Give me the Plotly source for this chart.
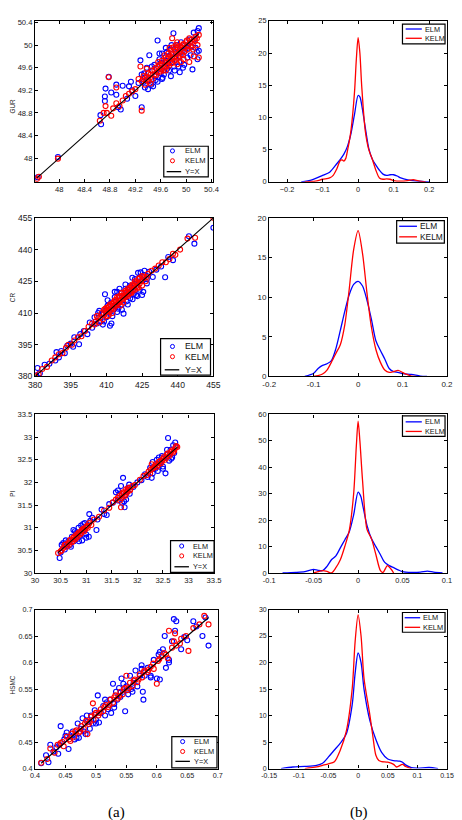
import plotly.graph_objects as go

W, H = 462, 820

# ---------------- data: scatter (actual, predicted) ----------------
GUR_ELM = [(47.66,47.66),(47.98,48.02),(48.65,48.76),(48.66,48.60),(48.72,49.01),(48.72,49.09),(48.73,49.23),(48.78,49.44),
 (48.82,49.16),(48.90,49.30),(48.90,49.12),(48.93,48.90),(48.97,48.86),(49.00,49.28),(49.07,49.05),(49.10,49.27),(49.13,49.35),
 (49.15,49.20),(49.20,49.10),(49.25,49.33),(49.28,49.73),(49.30,48.90),(49.30,49.48),(49.33,49.35),(49.35,49.25),(49.38,49.60),
 (49.42,49.82),(49.45,49.30),(49.48,49.27),(49.50,49.65),(49.52,49.45),(49.55,50.08),(49.55,49.35),(49.58,49.75),(49.60,49.50),
 (49.62,49.85),(49.65,49.48),(49.66,49.62),(49.68,49.95),(49.70,49.58),(49.72,49.80),(49.75,49.92),(49.76,49.45),(49.78,49.70),
 (49.80,50.21),(49.82,49.55),(49.84,49.85),(49.86,50.00),(49.88,49.62),(49.90,49.80),(49.92,50.05),(49.95,49.60),(49.98,49.90),
 (50.02,49.78),(50.05,50.10),(50.08,49.98),(50.10,49.57),(50.12,50.22),(50.15,49.95),(50.18,49.75),(50.20,50.30),(50.18,50.25),
 (50.02,49.95),(49.72,49.68),(49.60,49.68),(49.47,49.55),(49.40,49.38),(49.35,49.42),(49.90,49.52),(50.20,49.90),
 (49.34,49.50),(49.40,49.22),(49.46,49.62),(49.52,49.38),(49.58,49.85),(49.63,49.42),(49.68,49.72),(49.73,49.55),(49.77,50.00),
 (49.81,49.62),(49.85,49.95),(49.89,49.70),(49.93,49.88),(49.97,49.65),(50.03,50.00),(50.07,49.82),(50.13,50.10),(50.17,49.88),
 (49.70,49.88),(49.62,49.40)]
GUR_KELM = [(47.65,47.63),(47.68,47.67),(47.98,47.99),(48.64,48.66),(48.70,48.80),(48.73,48.92),(48.75,48.80),(48.78,49.43),
 (48.82,48.75),(48.85,48.88),(48.90,48.97),(48.90,49.25),(48.95,48.92),(49.00,49.02),(49.05,49.10),(49.10,49.14),(49.15,49.18),
 (49.20,49.22),(49.25,49.40),(49.28,49.62),(49.30,48.84),(49.30,49.36),(49.33,49.45),(49.36,49.38),(49.40,49.50),(49.43,49.42),
 (49.46,49.55),(49.50,49.48),(49.52,49.60),(49.55,49.52),(49.58,49.65),(49.60,49.58),(49.62,49.72),(49.65,49.60),(49.68,49.78),
 (49.70,49.66),(49.72,49.85),(49.74,49.70),(49.76,49.90),(49.78,49.76),(49.80,49.96),(49.82,49.72),(49.84,49.88),(49.86,50.05),
 (49.88,49.80),(49.90,49.92),(49.92,49.70),(49.95,50.00),(49.97,49.88),(50.00,50.05),(50.02,49.92),(50.05,50.12),(50.08,49.96),
 (50.10,50.06),(50.12,49.80),(50.15,50.15),(50.18,50.00),(50.20,50.18),(50.20,49.78),(49.78,50.12),(49.68,49.55),(49.56,49.70),
 (49.44,49.32),(49.38,49.58),(50.05,49.70),(49.95,49.82),
 (49.32,49.40),(49.35,49.30),(49.38,49.44),(49.41,49.36),(49.44,49.48),(49.47,49.40),(49.50,49.56),(49.53,49.47),(49.56,49.62),
 (49.59,49.53),(49.62,49.66),(49.64,49.55),(49.66,49.70),(49.69,49.62),(49.71,49.76),(49.73,49.64),(49.75,49.80),(49.77,49.68),
 (49.79,49.85),(49.81,49.78),(49.83,49.92),(49.85,49.76),(49.87,49.95),(49.89,49.86),(49.91,49.98),(49.93,49.84),(49.96,50.02),
 (49.98,49.95),(50.01,50.08),(50.03,49.98),(50.06,50.04),(50.09,50.10),(50.11,49.92),(50.14,50.08),(50.17,50.12),(49.74,49.95),
 (49.84,50.00),(49.66,49.82),(49.96,49.75),(49.86,49.66)]

CR_ELM = [(380.5,380.5),(381.0,384.0),(382.0,381.5),(384.0,385.5),(386.0,386.0),(388.5,387.5),(389.0,391.5),(390.0,389.0),
 (391.0,392.0),(392.5,391.0),(393.5,394.5),(395.0,395.5),(396.0,394.0),(396.5,398.5),(398.5,395.2),(399.0,400.0),(400.5,401.5),
 (402.0,400.0),(403.0,405.5),(404.0,403.0),(405.0,408.0),(406.0,405.0),(406.5,410.0),(407.5,406.0),(408.0,409.5),(408.5,404.5),
 (409.4,418.9),(409.5,411.0),(410.0,408.0),(410.5,413.5),(411.0,410.5),(411.5,404.0),(412.0,415.0),(412.1,405.0),(413.0,411.5),
 (413.5,417.5),(414.0,413.0),(414.5,420.0),(415.0,412.0),(415.5,416.0),(416.0,419.5),(416.5,414.0),(417.2,409.7),(417.5,418.0),
 (418.0,421.5),(418.5,415.5),(419.0,419.0),(419.5,422.0),(420.0,417.0),(420.5,420.5),(420.9,426.7),(421.5,419.0),(422.0,423.5),
 (422.5,418.5),(423.3,429.0),(424.0,421.0),(424.4,429.2),(425.0,425.5),(425.5,420.0),(426.0,428.0),(427.0,424.0),(428.0,429.5),
 (429.5,427.0),(431.0,430.5),(433.0,432.0),(434.7,426.9),(436.0,436.5),(438.0,435.0),(444.7,446.3),(447.0,442.8),(455.0,450.3),
 (407.0,411.0),(409.0,406.0),(410.5,416.0),(412.5,408.5),(413.5,420.0),(414.5,410.5),(415.5,421.5),(416.5,411.5),(418.0,423.5),
 (419.0,414.0),(420.0,423.0),(421.0,416.5),(422.0,426.0),(423.0,418.0),(424.0,427.0),(425.0,418.5),(426.0,430.0),(427.0,426.0)]
CR_KELM = [(380.0,380.0),(381.5,381.0),(383.0,383.5),(385.0,384.5),(387.0,387.5),(388.5,389.0),(390.0,390.5),(391.5,391.0),
 (393.0,393.5),(394.0,395.0),(395.5,395.0),(396.5,397.0),(398.0,398.5),(399.5,399.0),(401.0,401.5),(402.5,403.5),(404.0,405.0),
 (405.5,406.0),(406.5,407.5),(407.5,408.0),(408.0,410.0),(409.0,409.5),(409.5,412.0),(410.0,410.5),(410.5,408.5),(411.0,413.0),
 (411.5,411.0),(412.0,413.5),(412.5,410.0),(413.0,415.0),(413.5,413.0),(414.0,416.0),(414.5,414.0),(415.0,417.0),(415.5,415.5),
 (416.0,413.5),(416.5,418.0),(417.0,416.5),(417.5,419.5),(418.0,417.5),(418.5,420.0),(419.0,418.0),(419.5,421.0),(420.0,419.5),
 (420.5,422.5),(421.0,420.5),(421.5,423.0),(422.0,421.0),(422.5,424.5),(423.0,422.0),(423.5,426.0),(424.0,424.0),(425.0,423.0),
 (425.5,427.0),(426.5,425.0),(427.5,428.5),(429.0,430.0),(430.5,431.0),(432.0,432.5),(433.5,434.0),(435.0,434.0),(436.5,435.5),
 (438.0,438.0),(444.1,445.2),(447.3,445.6),(455.0,455.0),
 (405.0,404.5),(406.0,408.5),(407.0,405.5),(408.5,407.0),(409.0,411.5),(410.0,412.5),(410.5,411.5),(411.0,409.0),(411.5,414.0),
 (412.0,411.5),(412.5,414.5),(413.0,412.0),(413.5,416.0),(414.0,413.5),(414.5,417.5),(415.0,414.5),(415.5,418.0),(416.0,416.0),
 (416.5,419.5),(417.0,415.0),(417.5,418.0),(418.0,420.5),(418.5,418.5),(419.0,421.5),(419.5,419.0),(420.0,422.0),(420.5,419.5),
 (421.0,423.5),(421.5,421.5),(422.0,425.0),(422.5,422.5),(423.0,424.0),(423.5,422.0),(424.0,426.5),(424.5,425.0),(425.0,427.5),
 (426.0,426.5),(427.0,427.0),(439.0,437.5),(441.0,440.0)]

PI_ELM = [(30.48,30.33),(30.50,30.45),(30.52,30.62),(30.55,30.66),(30.58,30.52),(30.62,30.60),(30.65,30.70),(30.68,30.62),
 (30.72,30.80),(30.75,30.95),(30.76,30.70),(30.80,30.88),(30.82,30.75),(30.85,31.00),(30.88,30.82),(30.90,31.05),(30.92,30.72),
 (30.95,30.95),(30.97,31.10),(31.00,30.85),(31.02,31.05),(31.05,30.80),(31.06,31.30),(31.08,31.15),(31.12,31.22),(31.20,30.95),
 (31.22,31.18),(31.30,31.40),(31.35,31.30),(31.40,31.28),(31.45,31.52),(31.52,31.55),(31.58,31.78),(31.62,31.60),(31.65,31.75),
 (31.68,31.92),(31.70,31.55),(31.72,32.10),(31.75,31.45),(31.78,31.62),(31.80,31.80),(31.82,31.88),(31.85,31.75),(31.92,31.90),
 (32.00,32.00),(32.08,32.05),(32.15,32.18),(32.20,32.12),(32.25,32.32),(32.28,32.10),(32.30,32.45),(32.35,32.30),(32.38,32.50),
 (32.40,32.25),(32.45,32.42),(32.48,32.58),(32.50,32.35),(32.52,32.55),(32.55,32.20),(32.58,32.62),(32.60,32.98),(32.62,32.48),
 (32.65,32.72),(32.68,32.55),(32.70,32.82),(32.72,32.65),(32.75,32.78),
 (30.60,30.72),(30.70,30.58),(30.78,30.92),(30.86,30.70),(30.94,31.08),(31.00,30.78),(31.62,31.82),(31.74,31.58),(31.84,31.95),
 (32.30,32.20),(32.42,32.55),(32.50,32.30),(32.58,32.72),(32.66,32.52),(32.74,32.88)]
PI_KELM = [(30.45,30.44),(30.50,30.48),(30.55,30.55),(30.58,30.62),(30.62,30.58),(30.65,30.66),(30.68,30.72),(30.72,30.68),
 (30.75,30.78),(30.78,30.74),(30.80,30.84),(30.83,30.80),(30.86,30.90),(30.90,30.88),(30.93,30.96),(30.96,30.92),(31.00,31.02),
 (31.03,31.00),(31.06,31.10),(31.10,31.06),(31.15,31.18),(31.25,31.24),(31.35,31.38),(31.45,31.44),(31.52,31.56),(31.58,31.62),
 (31.62,31.66),(31.66,31.60),(31.68,31.45),(31.70,31.74),(31.72,31.78),(31.75,31.70),(31.78,31.85),(31.80,31.78),(31.83,31.88),
 (31.86,31.84),(31.90,31.92),(31.95,31.94),(32.05,32.06),(32.12,32.14),(32.18,32.16),(32.22,32.24),(32.25,32.20),(32.28,32.40),
 (32.30,32.30),(32.34,32.36),(32.38,32.34),(32.42,32.45),(32.46,32.42),(32.50,32.52),(32.54,32.50),(32.58,32.62),(32.62,32.58),
 (32.66,32.68),(32.70,32.66),(32.74,32.76),(32.78,32.78),
 (30.52,30.50),(30.60,30.63),(30.66,30.62),(30.70,30.74),(30.74,30.71),(30.77,30.80),(30.81,30.78),(30.84,30.87),(30.88,30.85),
 (30.91,30.94),(30.95,30.98),(30.98,30.96),(31.02,31.04),(31.65,31.70),(31.69,31.65),(31.73,31.76),(31.77,31.73),(31.81,31.84),
 (31.85,31.82),(32.26,32.28),(32.32,32.33),(32.36,32.40),(32.40,32.38),(32.44,32.47),(32.48,32.46),(32.52,32.56),(32.56,32.54),
 (32.60,32.64),(32.64,32.62),(32.68,32.71),(32.72,32.70),(32.76,32.80)]

HSMC_ELM = [(0.410,0.410),(0.418,0.425),(0.422,0.412),(0.425,0.445),(0.430,0.432),(0.435,0.440),(0.438,0.428),(0.440,0.445),
 (0.442,0.480),(0.448,0.455),(0.452,0.468),(0.455,0.437),(0.458,0.460),(0.462,0.470),(0.465,0.455),(0.470,0.485),(0.472,0.458),
 (0.475,0.475),(0.478,0.495),(0.480,0.470),(0.483,0.465),(0.486,0.488),(0.490,0.475),(0.492,0.500),(0.495,0.485),(0.498,0.510),
 (0.500,0.492),(0.503,0.538),(0.505,0.487),(0.508,0.505),(0.512,0.518),(0.515,0.500),(0.518,0.525),(0.520,0.512),(0.523,0.530),
 (0.525,0.505),(0.528,0.560),(0.530,0.522),(0.533,0.545),(0.535,0.530),(0.538,0.552),(0.540,0.535),(0.542,0.570),(0.545,0.545),
 (0.548,0.508),(0.550,0.555),(0.553,0.540),(0.556,0.575),(0.558,0.550),(0.562,0.562),(0.565,0.585),(0.568,0.555),(0.572,0.575),
 (0.575,0.595),(0.577,0.545),(0.578,0.530),(0.580,0.575),(0.585,0.590),(0.590,0.575),(0.595,0.605),(0.600,0.570),(0.603,0.615),
 (0.605,0.568),(0.610,0.625),(0.613,0.650),(0.615,0.590),(0.620,0.605),(0.625,0.640),(0.628,0.682),(0.630,0.660),(0.632,0.678),
 (0.640,0.625),(0.645,0.648),(0.650,0.642),(0.660,0.678),(0.665,0.668),(0.675,0.650),(0.680,0.685),(0.685,0.632),
 (0.450,0.462),(0.468,0.458),(0.485,0.500),(0.500,0.485),(0.515,0.530),(0.530,0.515),(0.545,0.560),(0.560,0.545),(0.575,0.588),
 (0.590,0.572),(0.605,0.620),(0.620,0.600)]
HSMC_KELM = [(0.410,0.411),(0.420,0.418),(0.425,0.438),(0.432,0.430),(0.437,0.445),(0.442,0.448),(0.447,0.442),(0.452,0.460),
 (0.456,0.455),(0.460,0.466),(0.464,0.460),(0.468,0.472),(0.472,0.468),(0.476,0.480),(0.480,0.475),(0.484,0.490),(0.486,0.465),
 (0.488,0.484),(0.492,0.498),(0.495,0.523),(0.496,0.492),(0.500,0.505),(0.504,0.500),(0.508,0.512),(0.512,0.508),(0.516,0.520),
 (0.520,0.516),(0.524,0.530),(0.528,0.524),(0.532,0.538),(0.536,0.532),(0.540,0.545),(0.544,0.540),(0.548,0.552),(0.550,0.575),
 (0.552,0.548),(0.556,0.562),(0.560,0.556),(0.564,0.568),(0.568,0.563),(0.572,0.578),(0.576,0.572),(0.580,0.585),(0.585,0.582),
 (0.590,0.592),(0.595,0.588),(0.600,0.560),(0.602,0.603),(0.608,0.612),(0.612,0.618),(0.618,0.608),(0.620,0.660),(0.625,0.628),
 (0.630,0.655),(0.632,0.632),(0.640,0.645),(0.648,0.650),(0.652,0.622),(0.660,0.665),(0.670,0.672),(0.678,0.688),(0.685,0.672),
 (0.445,0.450),(0.458,0.452),(0.466,0.470),(0.474,0.470),(0.482,0.485),(0.490,0.488),(0.498,0.502),(0.506,0.505),(0.514,0.516),
 (0.522,0.520),(0.530,0.534),(0.538,0.536),(0.546,0.550),(0.554,0.552),(0.562,0.566),(0.570,0.568),(0.578,0.582),(0.586,0.586),
 (0.594,0.598),(0.604,0.606),(0.615,0.615),(0.628,0.640),(0.638,0.636)]

# Y=X reference line extents
GUR_LINE = [47.65, 50.2]
CR_LINE = [380, 455]
PI_LINE = [30.45, 32.78]
HSMC_LINE = [0.41, 0.685]

# ---------------- data: error densities ----------------
D1_ELM_X = [-0.16,-0.13,-0.1,-0.08,-0.06,-0.05,-0.04,-0.03,-0.02,-0.01,0,0.005,0.01,0.02,0.03,0.04,0.05,0.06,0.07,0.08,0.09,0.1,0.11,0.12,0.14,0.16,0.18,0.2]
D1_ELM_Y = [0,0.3,1.0,1.5,2.8,3.5,4.3,5.5,7.5,10.5,13.4,13.2,12.0,8.5,5.2,3.5,2.6,1.8,1.2,1.0,1.1,1.1,0.9,0.6,0.3,0.15,0.05,0]
D1_KELM_X = [-0.15,-0.12,-0.1,-0.08,-0.07,-0.06,-0.05,-0.045,-0.04,-0.035,-0.03,-0.02,-0.01,-0.005,0,0.005,0.01,0.02,0.03,0.04,0.05,0.06,0.07,0.08,0.09,0.1,0.12,0.14,0.155,0.17,0.19]
D1_KELM_Y = [0,0.1,0.4,0.6,1.0,2.0,3.3,3.4,3.2,3.6,4.8,8,14,19,22.4,20,15,8,5,3.5,1.8,0.6,0.4,0.45,0.4,0.2,0.1,0.2,0.35,0.15,0]

D2_ELM_X = [-0.12,-0.1,-0.09,-0.08,-0.07,-0.06,-0.05,-0.04,-0.03,-0.02,-0.01,0,0.01,0.02,0.03,0.04,0.05,0.06,0.07,0.08,0.09,0.1,0.12,0.14,0.155]
D2_ELM_Y = [0,0.4,1.0,1.4,1.6,2.0,3.5,5.8,8.2,10.3,11.6,12.0,11.4,9.6,7.2,4.5,3.3,2.2,1.0,0.6,0.5,0.35,0.25,0.05,0]
D2_KELM_X = [-0.1,-0.09,-0.08,-0.07,-0.06,-0.05,-0.04,-0.03,-0.02,-0.01,0,0.01,0.02,0.03,0.04,0.05,0.06,0.07,0.08,0.09,0.1,0.11,0.12,0.13]
D2_KELM_Y = [0,0.1,0.3,0.8,1.8,2.9,4.0,6.5,11,16,18.4,15.5,10.5,6.2,3.4,1.8,0.8,0.5,0.6,0.75,0.5,0.25,0.05,0]

D3_ELM_X = [-0.085,-0.07,-0.06,-0.055,-0.05,-0.045,-0.04,-0.035,-0.03,-0.025,-0.02,-0.015,-0.01,-0.005,0,0.003,0.005,0.01,0.015,0.02,0.025,0.03,0.035,0.04,0.045,0.05,0.06,0.07,0.078,0.085,0.095]
D3_ELM_Y = [0,0.2,0.5,1.0,1.4,1.0,0.9,2.5,5.0,6.5,9.5,12.5,15.5,22,30.6,29,26,18,13,10,7,4,2.8,2.0,1.2,0.5,0.2,0.3,0.7,0.3,0]
D3_KELM_X = [-0.05,-0.045,-0.04,-0.035,-0.03,-0.025,-0.02,-0.015,-0.01,-0.005,-0.002,0,0.002,0.005,0.01,0.015,0.02,0.025,0.028,0.033,0.037,0.04]
D3_KELM_Y = [0,0.5,0.9,0.6,0,2,5,10,16,30,48,57.5,50,35,16.5,13,7,1,0.2,2.8,1.5,0]

D4_ELM_X = [-0.13,-0.11,-0.09,-0.07,-0.06,-0.05,-0.04,-0.03,-0.02,-0.01,-0.005,0,0.005,0.01,0.02,0.03,0.04,0.05,0.06,0.07,0.075,0.08,0.09,0.1,0.12,0.135]
D4_ELM_Y = [0,0.3,0.4,0.6,1.0,2.2,3.5,4.8,6.5,12,18,21.8,20,15,9,5.5,3.0,1.8,1.5,1.4,1.2,0.7,0.2,0.1,0.2,0]
D4_KELM_X = [-0.09,-0.07,-0.06,-0.05,-0.04,-0.03,-0.02,-0.01,-0.005,0,0.005,0.01,0.02,0.025,0.03,0.035,0.04,0.05,0.06,0.065,0.075,0.08,0.09]
D4_KELM_Y = [0,0.3,0.6,0.9,1.3,3.5,7.0,15,24,29,25,17,10,6,2.5,1.5,1.3,1.2,0.8,0.3,0.8,0.4,0]

BLUE = "#0000ff"
RED = "#ff0000"
FONT = "Liberation Sans, Arial, sans-serif"

fig = go.Figure()

def px2x(p):
    return p / W

def px2y(p):
    return 1 - p / H

# panel boxes in pixels: (left, right, top, bottom)
LEFT_BOX = [(28, 212.3, 16, 179), (28, 212.3, 215.5, 376), (28, 213, 414.5, 575), (28, 216.7, 612, 773)]
RIGHT_BOX = [(270, 453.7, 16, 179), (270, 453.7, 215.5, 376), (270, 453.7, 414.5, 575), (270, 453.7, 612, 773)]

scatter_sets = [
    ("GUR", GUR_ELM, GUR_KELM, GUR_LINE, [47.62, 50.43], [47.58, 50.43],
     [48, 48.4, 48.8, 49.2, 49.6, 50, 50.4], ["48", "48.4", "48.8", "49.2", "49.6", "50", "50.4"],
     [48, 48.4, 48.8, 49.2, 49.6, 50, 50.4], ["48", "48.4", "48.8", "49.2", "49.6", "50", "50.4"], 7.6, 102),
    ("CR", CR_ELM, CR_KELM, CR_LINE, [380, 455], [380, 455],
     [380, 395, 410, 425, 440, 455], ["380", "395", "410", "425", "440", "455"],
     [380, 395, 410, 425, 440, 455], ["380", "395", "410", "425", "440", "455"], 8.6, 296),
    ("PI", PI_ELM, PI_KELM, PI_LINE, [30, 33.5], [30, 33.5],
     [30, 30.5, 31, 31.5, 32, 32.5, 33, 33.5], ["30", "30.5", "31", "31.5", "32", "32.5", "33", "33.5"],
     [30, 30.5, 31, 31.5, 32, 32.5, 33, 33.5], ["30", "30.5", "31", "31.5", "32", "32.5", "33", "33.5"], 7.7, 495),
    ("HSMC", HSMC_ELM, HSMC_KELM, HSMC_LINE, [0.4, 0.7], [0.4, 0.7],
     [0.4, 0.45, 0.5, 0.55, 0.6, 0.65, 0.7], ["0.4", "0.45", "0.5", "0.55", "0.6", "0.65", "0.7"],
     [0.4, 0.45, 0.5, 0.55, 0.6, 0.65, 0.7], ["0.4", "0.45", "0.5", "0.55", "0.6", "0.65", "0.7"], 7.2, 688),
]

density_sets = [
    (D1_ELM_X, D1_ELM_Y, D1_KELM_X, D1_KELM_Y, [-0.25, 0.25], [0, 25],
     [-0.2, -0.1, 0, 0.1, 0.2], ["\u22120.2", "\u22120.1", "0", "0.1", "0.2"], [0, 5, 10, 15, 20, 25], 7.4),
    (D2_ELM_X, D2_ELM_Y, D2_KELM_X, D2_KELM_Y, [-0.2, 0.2], [0, 20],
     [-0.2, -0.1, 0, 0.1, 0.2], ["-0.2", "-0.1", "0", "0.1", "0.2"], [0, 5, 10, 15, 20], 8.0),
    (D3_ELM_X, D3_ELM_Y, D3_KELM_X, D3_KELM_Y, [-0.1, 0.1], [0, 60],
     [-0.1, -0.05, 0, 0.05, 0.1], ["-0.1", "-0.05", "0", "0.05", "0.1"], [0, 10, 20, 30, 40, 50, 60], 7.4),
    (D4_ELM_X, D4_ELM_Y, D4_KELM_X, D4_KELM_Y, [-0.15, 0.15], [0, 30],
     [-0.15, -0.1, -0.05, 0, 0.05, 0.1, 0.15], ["-0.15", "-0.1", "-0.05", "0", "0.05", "0.1", "0.15"], [0, 5, 10, 15, 20, 25, 30], 7.0),
]

def axis_style(dom, rng, tickvals, ticktext, fsize, anchor):
    return dict(domain=dom, range=rng, tickmode="array", tickvals=tickvals, ticktext=ticktext,
                showline=True, linecolor="black", linewidth=1.3, mirror="allticks",
                ticks="inside", ticklen=3, tickwidth=0.8, tickcolor="black",
                showgrid=False, zeroline=False, anchor=anchor,
                tickfont=dict(family=FONT, size=fsize, color="#1a1a1a"))

layout_axes = {}
shapes = []
annotations = []

def add_legend(box, entries, fsize, tx):
    bx0, bx1, by0, by1 = box
    shapes.append(dict(type="rect", xref="paper", yref="paper", x0=px2x(bx0), x1=px2x(bx1),
                       y0=px2y(by1), y1=px2y(by0), line=dict(color="black", width=1.2),
                       fillcolor="white", layer="above"))
    for kind, color, label, yc, sx0, sx1 in entries:
        if kind == "line":
            shapes.append(dict(type="line", xref="paper", yref="paper", x0=px2x(sx0), x1=px2x(sx1),
                               y0=px2y(yc), y1=px2y(yc), line=dict(color=color, width=1.3), layer="above"))
        else:
            cx = (sx0 + sx1) / 2
            r = 2.1
            shapes.append(dict(type="circle", xref="paper", yref="paper", x0=px2x(cx - r), x1=px2x(cx + r),
                               y0=px2y(yc + r), y1=px2y(yc - r), line=dict(color=color, width=1), layer="above"))
        annotations.append(dict(xref="paper", yref="paper", x=px2x(tx), y=px2y(yc), text=label,
                                showarrow=False, xanchor="left", yanchor="middle",
                                font=dict(family=FONT, size=fsize, color="#111")))

left_legends = [
    ((161, 207, 143, 174), [("m", BLUE, "ELM", 147.7, 164, 176), ("m", RED, "KELM", 157.7, 164, 176),
                            ("line", "black", "Y=X", 168.7, 164, 179)], 7.6, 180.5),
    ((157.7, 209.3, 337.7, 374.7), [("m", BLUE, "ELM", 345.7, 163, 177), ("m", RED, "KELM", 356, 163, 177),
                                    ("line", "black", "Y=X", 369.3, 162, 177)], 8.8, 180.5),
    ((168, 213, 542.3, 574.3), [("m", BLUE, "ELM", 547.7, 172, 187), ("m", RED, "KELM", 557.7, 172, 187),
                                ("line", "black", "Y=X", 568.7, 172, 187)], 7.3, 189),
    ((169.3, 216, 740.7, 772.3), [("m", BLUE, "ELM", 745.7, 173, 188), ("m", RED, "KELM", 755.7, 173, 188),
                                  ("line", "black", "Y=X", 765.7, 173, 188)], 7.4, 190.5),
]
right_legends = [
    ((407.7, 451.7, 19.3, 39.3), [("line", BLUE, "ELM", 24.3, 411, 427.7), ("line", RED, "KELM", 33.7, 411, 427.7)], 7.3, 428.5),
    ((401.7, 451, 218.3, 241), [("line", BLUE, "ELM", 224, 404.3, 422.7), ("line", RED, "KELM", 234.7, 404.3, 422.7)], 8.4, 424),
    ((407.7, 451.7, 416, 436.7), [("line", BLUE, "ELM", 422, 411, 427.7), ("line", RED, "KELM", 431.7, 411, 427.7)], 7.3, 428.5),
    ((407.7, 451.7, 615, 635), [("line", BLUE, "ELM", 620.3, 410, 426), ("line", RED, "KELM", 630, 410, 426)], 7.4, 427),
]

for i, (name, elm, kelm, ln, xr, yr, xtv, xtt, ytv, ytt, fs, ytitle_y) in enumerate(scatter_sets):
    k = 2 * i + 1
    l, r, t, b = LEFT_BOX[i]
    xa, ya = f"x{k}", f"y{k}"
    layout_axes[f"xaxis{k}"] = axis_style([px2x(l), px2x(r)], xr, xtv, xtt, fs, ya)
    layout_axes[f"yaxis{k}"] = axis_style([px2y(b), px2y(t)], yr, ytv, ytt, fs, xa)
    fig.add_trace(go.Scatter(x=[p[0] for p in elm], y=[p[1] for p in elm], mode="markers", name="ELM",
                             marker=dict(symbol="circle-open", size=5, color=BLUE, line=dict(width=1.1)),
                             xaxis=xa, yaxis=ya, showlegend=False))
    fig.add_trace(go.Scatter(x=[p[0] for p in kelm], y=[p[1] for p in kelm], mode="markers", name="KELM",
                             marker=dict(symbol="circle-open", size=5, color=RED, line=dict(width=1.1)),
                             xaxis=xa, yaxis=ya, showlegend=False))
    fig.add_trace(go.Scatter(x=ln, y=ln, mode="lines", name="Y=X", line=dict(color="black", width=1.1),
                             xaxis=xa, yaxis=ya, showlegend=False))
    annotations.append(dict(xref="paper", yref="paper", x=px2x(5), y=px2y(ytitle_y), text=name, textangle=-90,
                            showarrow=False, xanchor="center", yanchor="middle",
                            font=dict(family=FONT, size=6.4, color="#222")))
    box, entries, lfs, tx = left_legends[i]
    add_legend(box, entries, lfs, tx)

for i, (ex, ey, kx, ky, xr, yr, xtv, xtt, ytv, fs) in enumerate(density_sets):
    k = 2 * i + 2
    l, r, t, b = RIGHT_BOX[i]
    xa, ya = f"x{k}", f"y{k}"
    layout_axes[f"xaxis{k}"] = axis_style([px2x(l), px2x(r)], xr, xtv, xtt, fs, ya)
    layout_axes[f"yaxis{k}"] = axis_style([px2y(b), px2y(t)], yr, ytv, [str(v) for v in ytv], fs, xa)
    fig.add_trace(go.Scatter(x=ex, y=ey, mode="lines", name="ELM", line=dict(color=BLUE, width=1.3, shape="spline", smoothing=0.8),
                             xaxis=xa, yaxis=ya, showlegend=False))
    fig.add_trace(go.Scatter(x=kx, y=ky, mode="lines", name="KELM", line=dict(color=RED, width=1.3, shape="spline", smoothing=0.8),
                             xaxis=xa, yaxis=ya, showlegend=False))
    box, entries, lfs, tx = right_legends[i]
    add_legend(box, entries, lfs, tx)

annotations.append(dict(xref="paper", yref="paper", x=px2x(112), y=px2y(817), text="(a)", showarrow=False,
                        xanchor="center", yanchor="middle", font=dict(family="Liberation Serif, Times New Roman, serif", size=15, color="black")))
annotations.append(dict(xref="paper", yref="paper", x=px2x(363), y=px2y(817), text="(b)", showarrow=False,
                        xanchor="center", yanchor="middle", font=dict(family="Liberation Serif, Times New Roman, serif", size=15, color="black")))

fig.update_layout(width=W, height=H, margin=dict(l=0, r=0, t=0, b=0), paper_bgcolor="white", plot_bgcolor="white",
                  showlegend=False, shapes=shapes, annotations=annotations, **layout_axes)
fig.write_html("out.html")
